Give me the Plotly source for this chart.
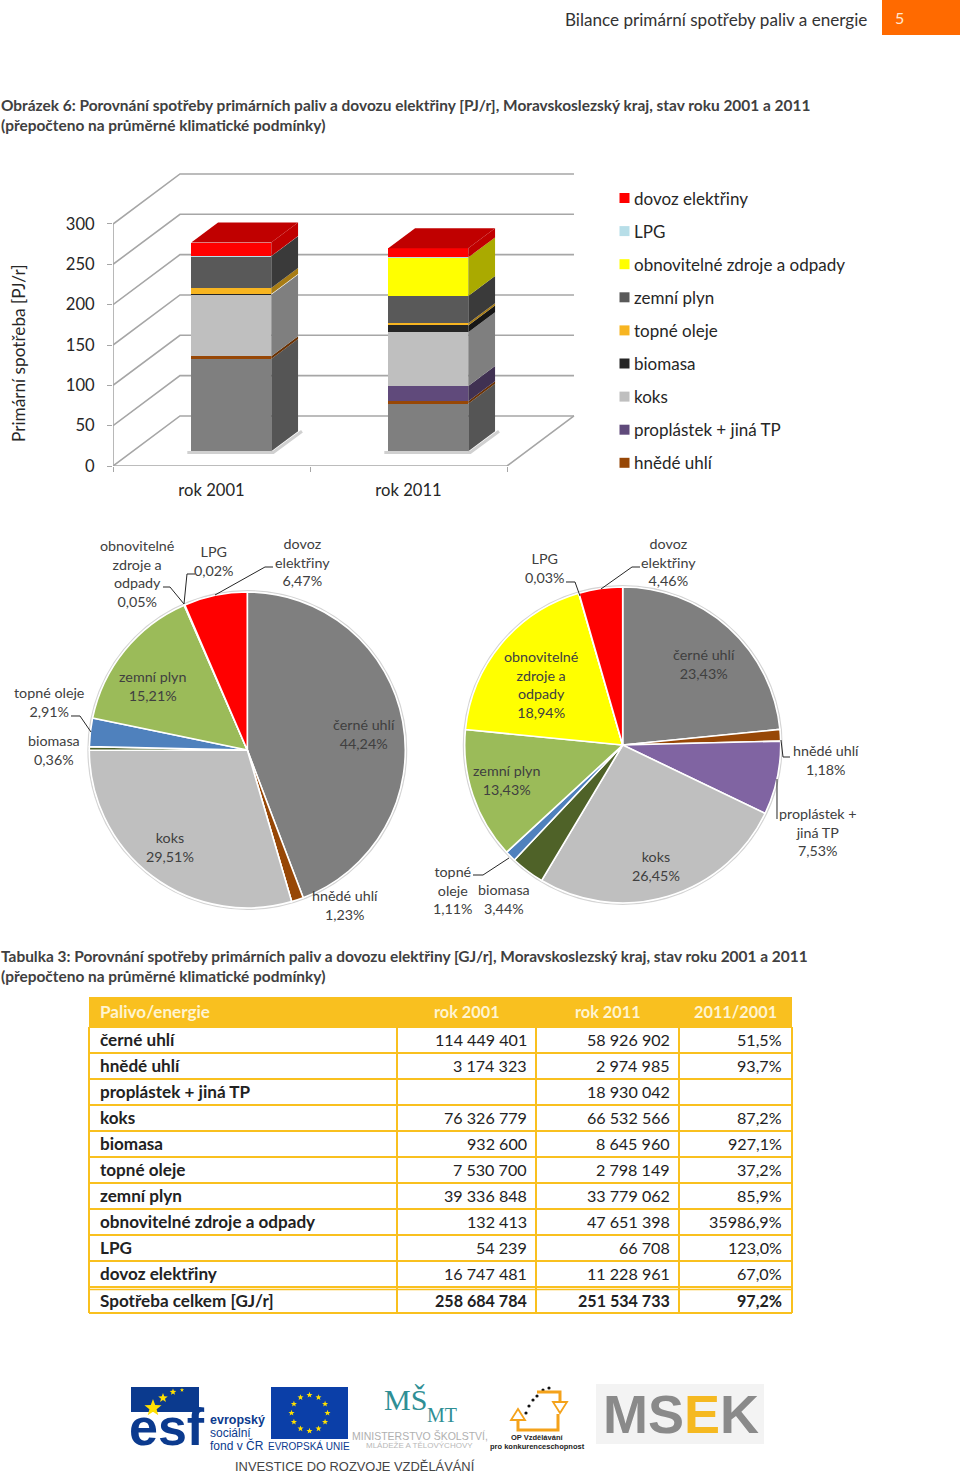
import math
import plotly.graph_objects as go

FUELS = ["černé uhlí", "hnědé uhlí", "proplástek + jiná TP", "koks", "biomasa", "topné oleje",
         "zemní plyn", "obnovitelné zdroje a odpady", "LPG", "dovoz elektřiny"]
GJ_2001 = [114449401, 3174323, 0, 76326779, 932600, 7530700, 39336848, 132413, 54239, 16747481]
GJ_2011 = [58926902, 2974985, 18930042, 66532566, 8645960, 2798149, 33779062, 47651398, 66708, 11228961]
RATIO = ["51,5%", "93,7%", "", "87,2%", "927,1%", "37,2%", "85,9%", "35986,9%", "123,0%", "67,0%"]
TOTALS = ["Spotřeba celkem [GJ/r]", "258 684 784", "251 534 733", "97,2%"]
HEADERS = ["Palivo/energie", "rok 2001", "rok 2011", "2011/2001"]
YEARS = ["rok 2001", "rok 2011"]
Y_TICKS = [0, 50, 100, 150, 200, 250, 300]
BAR_FRONT = ["#7f7f7f", "#974706", "#604a7b", "#bfbfbf", "#262626", "#f7b521", "#595959", "#ffff00", "#b7dee8", "#ff0000"]
BAR_SIDE = ["#555555", "#6a3204", "#403152", "#7f7f7f", "#161616", "#a87c14", "#3a3a3a", "#aaaa00", "#7a949b", "#c00000"]
PIE_COLORS = ["#7f7f7f", "#974706", "#8064a2", "#bfbfbf", "#4f6228", "#4f81bd", "#9bbb59", "#ffff00", "#92cddc", "#ff0000"]
LEGEND_NAMES = FUELS[:0:-1]
LEGEND_COLORS = ["#ff0000", "#b7dee8", "#ffff00", "#595959", "#f7b521", "#262626", "#bfbfbf", "#604a7b", "#974706"]

FONT = "Lato"
W, H = 960, 1473
H_LAYOUT = 1483
TXT = "#262626"
GRID = "#a6a6a6"


def px(x):
    return x / W


def py(y):
    return 1 - y / H


annotations = []
shapes = []


def label(x, y, text, size=14.3, color="#404040", anchor="center", family=FONT, **kw):
    annotations.append(dict(x=px(x), y=py(y), xref="paper", yref="paper", text=text, showarrow=False,
                            xanchor=anchor, yanchor="middle", align=anchor if anchor != "center" else "center",
                            borderpad=0, font=dict(family=family, size=size, color=color), **kw))


def rect(x0, y0, x1, y1, color):
    shapes.append(dict(type="rect", xref="paper", yref="paper", x0=px(x0), x1=px(x1), y0=py(y0), y1=py(y1),
                       fillcolor=color, line=dict(width=0), layer="below"))


def polyline(points, color="#262626", width=1, close=False):
    path = "M" + " L".join(f"{px(a):.5f},{py(b):.5f}" for a, b in points) + (" Z" if close else "")
    shapes.append(dict(type="path", xref="paper", yref="paper", path=path, line=dict(color=color, width=width)))


def dot(x, y, r, color, line=None):
    shapes.append(dict(type="circle", xref="paper", yref="paper", x0=px(x - r), x1=px(x + r), y0=py(y + r), y1=py(y - r),
                       fillcolor=color, line=dict(width=1.5 if line else 0, color=line or color), layer="below"))


def star(x, y, r, color="#ffe000"):
    pts = []
    for k in range(10):
        rad = r if k % 2 == 0 else r * 0.42
        a = k * math.pi / 5
        pts.append((x + rad * math.sin(a), y - rad * math.cos(a)))
    path = "M" + " L".join(f"{px(a):.5f},{py(b):.5f}" for a, b in pts) + " Z"
    shapes.append(dict(type="path", xref="paper", yref="paper", path=path, fillcolor=color, line=dict(width=0)))


# ---------- page furniture ----------
label(868, 20, "Bilance primární spotřeby paliv a energie", size=17.1, color="#333333", anchor="right")
rect(882, 0, 960, 35, "#ff6a00")
label(899, 18, "5", size=16, color="#ffe8d0")
HEAD = 15.45
label(-0.5, 105, "<b>Obrázek 6: Porovnání spotřeby primárních paliv a dovozu elektřiny [PJ/r], Moravskoslezský kraj, stav roku 2001 a 2011</b>", size=HEAD, anchor="left")
label(-0.5, 125, "<b>(přepočteno na průměrné klimatické podmínky)</b>", size=HEAD, anchor="left")
label(-0.5, 956, "<b>Tabulka 3: Porovnání spotřeby primárních paliv a dovozu elektřiny [GJ/r], Moravskoslezský kraj, stav roku 2001 a 2011</b>", size=HEAD, anchor="left")
label(-0.5, 976, "<b>(přepočteno na průměrné klimatické podmínky)</b>", size=HEAD, anchor="left")

# ---------- pseudo-3D stacked columns ----------
fig = go.Figure()
DX, DY = 0.34, 62.0
F0, F1 = 0.295, 0.695
BAR_W = 0.406
X_END = 2.0


def proj(x, v, d):
    return x + d * DX, v + d * DY


def seg(points, color=GRID, width=1.6):
    path = "M" + " L".join(f"{a:.4f},{b:.3f}" for a, b in points)
    shapes.append(dict(type="path", xref="x", yref="y", path=path, line=dict(color=color, width=width), layer="below"))


for t in Y_TICKS:
    seg([proj(0, t, 0), proj(0, t, 1), proj(X_END, t, 1)])
seg([proj(0, 0, 0), proj(X_END, 0, 0), proj(X_END, 0, 1)])
seg([proj(0, 0, 0), proj(0, Y_TICKS[-1], 0)])

series = [[a / 1e6 for a in GJ_2001], [b / 1e6 for b in GJ_2011]]
for c in range(2):
    seg([proj(c + 0.5 - BAR_W / 2 - 0.02, -1.5, F0), proj(c + 0.5 + BAR_W / 2 + 0.01, -1.5, F0),
         proj(c + 0.5 + BAR_W / 2 + 0.02, 0, F1)], color="#d0d0d0", width=3)

for i, name in enumerate(FUELS):
    xs, bases, ys = [], [], []
    for c, vals in enumerate(series):
        low = sum(vals[:i])
        xc, b = proj(c + 0.5, low, F0)
        xs.append(xc)
        bases.append(b)
        ys.append(vals[i])
    fig.add_trace(go.Bar(x=xs, y=ys, base=bases, width=BAR_W, name=name, showlegend=False,
                         marker=dict(color=BAR_FRONT[i], line=dict(width=0)), hoverinfo="name+y"))

for c, vals in enumerate(series):
    right = c + 0.5 + BAR_W / 2
    left = c + 0.5 - BAR_W / 2
    low = 0.0
    for i, v in enumerate(vals):
        if v > 0:
            corners = [proj(right, low, F0), proj(right, low, F1), proj(right, low + v, F1), proj(right, low + v, F0)]
            fig.add_trace(go.Scatter(x=[p[0] for p in corners] + [corners[0][0]], y=[p[1] for p in corners] + [corners[0][1]],
                                     mode="lines", fill="toself", fillcolor=BAR_SIDE[i], line=dict(width=0, color=BAR_SIDE[i]),
                                     showlegend=False, hoverinfo="skip"))
        low += v
    corners = [proj(left, low, F0), proj(right, low, F0), proj(right, low, F1), proj(left, low, F1)]
    fig.add_trace(go.Scatter(x=[p[0] for p in corners] + [corners[0][0]], y=[p[1] for p in corners] + [corners[0][1]],
                             mode="lines", fill="toself", fillcolor=BAR_SIDE[-1], line=dict(width=0, color=BAR_SIDE[-1]),
                             showlegend=False, hoverinfo="skip"))

label(18, 353, "Primární spotřeba [PJ/r]", size=17.2, color=TXT, textangle=-90)
for j, (nm, col) in enumerate(zip(LEGEND_NAMES, LEGEND_COLORS)):
    yy = 198 + j * 33.1
    rect(619.5, yy - 5, 629.5, yy + 5, col)
    label(633, yy, nm, size=17, color=TXT, anchor="left")

# ---------- pies ----------
PIE_SIZE = 158
for (cx, cy, vals) in [(247.3, 750, GJ_2001), (622.7, 745, GJ_2011)]:
    dot(cx, cy, PIE_SIZE + 1.2, "#ffffff", "#d4d4d4")
    fig.add_trace(go.Pie(labels=FUELS, values=vals, sort=False, direction="clockwise", rotation=0,
                         domain=dict(x=[px(cx - PIE_SIZE), px(cx + PIE_SIZE)], y=[py(cy + PIE_SIZE), py(cy - PIE_SIZE)]),
                         marker=dict(colors=PIE_COLORS, line=dict(color="#ffffff", width=1.6)),
                         textinfo="none", showlegend=False, hoverinfo="label+percent"))

PIE_TEXT = [
    (137, 573, "obnovitelné<br>zdroje a<br>odpady<br>0,05%"), (214, 561, "LPG<br>0,02%"), (302, 562, "dovoz<br>elektřiny<br>6,47%"),
    (152, 686, "zemní plyn<br>15,21%"), (364, 734, "černé uhlí<br>44,24%"), (49, 702, "topné oleje<br>2,91%"),
    (54, 750, "biomasa<br>0,36%"), (170, 847, "koks<br>29,51%"), (345, 905, "hnědé uhlí<br>1,23%"),
    (545, 568, "LPG<br>0,03%"), (668, 562, "dovoz<br>elektřiny<br>4,46%"), (704, 664, "černé uhlí<br>23,43%"),
    (541, 684, "obnovitelné<br>zdroje a<br>odpady<br>18,94%"), (507, 780, "zemní plyn<br>13,43%"), (826, 760, "hnědé uhlí<br>1,18%"),
    (818, 832, "proplástek +<br>jiná TP<br>7,53%"), (656, 866, "koks<br>26,45%"), (453, 890, "topné<br>oleje<br>1,11%"),
    (504, 899, "biomasa<br>3,44%"),
]
for x, y, t in PIE_TEXT:
    label(x, y, t)

for pts in [
    [(163, 587), (170, 587), (184, 604)], [(195, 574), (187, 574), (184, 604)], [(273, 567), (265, 567), (215, 595)],
    [(71, 716), (80, 716), (91, 732)], [(566, 582), (575, 582), (580, 596)], [(640, 567), (632, 567), (601, 589)],
    [(790, 757), (783, 757), (781, 740)], [(777, 819), (777, 779)], [(473, 875), (483, 875), (509, 858)],
]:
    polyline(pts)

# ---------- table ----------
TBL = "#f9c01f"
T_LEFT, T_RIGHT = 89, 792
COLS = [397, 536, 679]
T_TOP, T_HEAD, ROW_H = 997, 1027, 26.0
NAME_SIZE = 17.1
NUM_SIZE = 16.1


def fmt(v):
    return f"{v:,}".replace(",", " ") if v else ""


rect(T_LEFT, T_TOP, T_RIGHT, T_HEAD, TBL)
label(99, 1012, f"<b>{HEADERS[0]}</b>", size=NAME_SIZE, color="#fff4d0", anchor="left")
label(467, 1012, f"<b>{HEADERS[1]}</b>", size=16.3, color="#fff4d0")
label(608, 1012, f"<b>{HEADERS[2]}</b>", size=16.3, color="#fff4d0")
label(735, 1012, f"<b>{HEADERS[3]}</b>", size=16.3, color="#fff4d0")
n_rows = len(FUELS) + 1
t_bottom = T_HEAD + ROW_H * n_rows
for r in range(n_rows + 1):
    yy = T_HEAD + ROW_H * r
    polyline([(T_LEFT, yy), (T_RIGHT, yy)], TBL, 2)
polyline([(T_LEFT, t_bottom - ROW_H + 2.5), (T_RIGHT, t_bottom - ROW_H + 2.5)], TBL, 1.5)
for xx in [T_LEFT] + COLS + [T_RIGHT]:
    polyline([(xx, T_HEAD), (xx, t_bottom)], TBL, 2)
for r, name in enumerate(FUELS):
    yy = T_HEAD + ROW_H * (r + 0.5)
    label(99, yy - 1, f"<b>{name}</b>", size=NAME_SIZE, color="#222222", anchor="left")
    label(528, yy - 1, fmt(GJ_2001[r]), size=NUM_SIZE, color="#222222", anchor="right")
    label(671, yy - 1, fmt(GJ_2011[r]), size=NUM_SIZE, color="#222222", anchor="right")
    if RATIO[r]:
        label(783, yy - 1, RATIO[r], size=NUM_SIZE, color="#222222", anchor="right")
yy = T_HEAD + ROW_H * (n_rows - 0.5) + 1
label(99, yy - 1, f"<b>{TOTALS[0]}</b>", size=NAME_SIZE, color="#222222", anchor="left")
for xr, t in zip([528, 671, 783], TOTALS[1:]):
    label(xr, yy - 1, f"<b>{t}</b>", size=NUM_SIZE, color="#222222", anchor="right")

# ---------- logos ----------
BLUE = "#0b3a8e"
rect(131, 1387, 199, 1412, BLUE)
label(167, 1427, "<b>esf</b>", size=52, color=BLUE, family="Liberation Sans")
star(153, 1408, 9)
star(163, 1398, 5)
star(173, 1392, 3.5)
star(182, 1390, 2.2)
label(209, 1420, "<b>evropský</b>", size=12.5, color=BLUE, anchor="left", family="Liberation Sans")
label(209, 1433, "sociální", size=12, color=BLUE, anchor="left", family="Liberation Sans")
label(209, 1445, "fond v ČR", size=12, color=BLUE, anchor="left", family="Liberation Sans")
rect(271, 1387, 348, 1439, "#0b3fa8")
for k in range(12):
    ang = k * math.pi / 6
    star(309.5 + 18 * math.sin(ang), 1413 - 18 * math.cos(ang), 3.2)
label(309, 1446, "EVROPSKÁ UNIE", size=10, color=BLUE, family="Liberation Sans")
label(405, 1399, "MŠ", size=30, color="#2f8f95", family="Liberation Serif")
label(442, 1415, "MT", size=20, color="#2f8f95", family="Liberation Serif")
label(420, 1436, "MINISTERSTVO ŠKOLSTVÍ,", size=10.5, color="#b0b0b0", family="Liberation Sans")
label(419, 1445, "MLÁDEŽE A TĚLOVÝCHOVY", size=8, color="#b8b8b8", family="Liberation Sans")
ORANGE = "#f4a21b"
polyline([(537, 1392), (560, 1392), (560, 1402)], ORANGE, 3)
polyline([(553, 1402), (567, 1402), (560, 1413)], ORANGE, 1.8, close=True)
polyline([(518, 1420), (518, 1430), (558, 1430), (558, 1414)], ORANGE, 3)
polyline([(511, 1420), (525, 1420), (518, 1409)], ORANGE, 1.8, close=True)
for dx_, dy_ in [(526, 1413), (529, 1406), (533, 1400), (537, 1396), (543, 1390), (549, 1388)]:
    dot(dx_, dy_, 1.6, "#111111")
label(537, 1437, "<b>OP Vzdělávání</b>", size=7.5, color="#222222", family="Liberation Sans")
label(537, 1446, "<b>pro konkurenceschopnost</b>", size=7.5, color="#222222", family="Liberation Sans")
rect(596, 1384, 764, 1444, "#f3f3f3")
label(681, 1414, '<b>MS<span style="color:#f5b921">E</span>K</b>', size=54, color="#8a8a8a", family="Liberation Sans")
label(355, 1466, "INVESTICE DO ROZVOJE VZDĚLÁVÁNÍ", size=12.9, color="#444444", family="Liberation Sans")

Y_PER_UNIT = 0.8067
X_PER_UNIT = 197.0
fig.update_layout(
    width=W, height=H_LAYOUT, margin=dict(l=0, r=0, t=0, b=0), autosize=False, paper_bgcolor="#ffffff", plot_bgcolor="rgba(0,0,0,0)",
    barmode="overlay", bargap=0, showlegend=False, annotations=annotations, shapes=shapes,
    xaxis=dict(domain=[px(113), px(113 + 470)], range=[0, 470 / X_PER_UNIT], tickvals=[0.5, 1.5], ticktext=YEARS, ticks="",
               showgrid=False, zeroline=False, showline=False, ticklabelstandoff=12, tickfont=dict(family=FONT, size=16.6, color=TXT),
               minor=dict(tickvals=[0, 1, 2], ticks="outside", ticklen=5, tickcolor=GRID, showgrid=False)),
    yaxis=dict(domain=[py(466), py(160)], range=[0, 306 / Y_PER_UNIT], tickvals=Y_TICKS, ticks="outside", ticklen=5, tickcolor=GRID,
               showgrid=False, zeroline=False, showline=False, ticklabelstandoff=9, tickfont=dict(family=FONT, size=16.6, color=TXT)),
)
fig.write_html("out.html", config=dict(displayModeBar=False), post_script="document.body.style.margin='0';")
